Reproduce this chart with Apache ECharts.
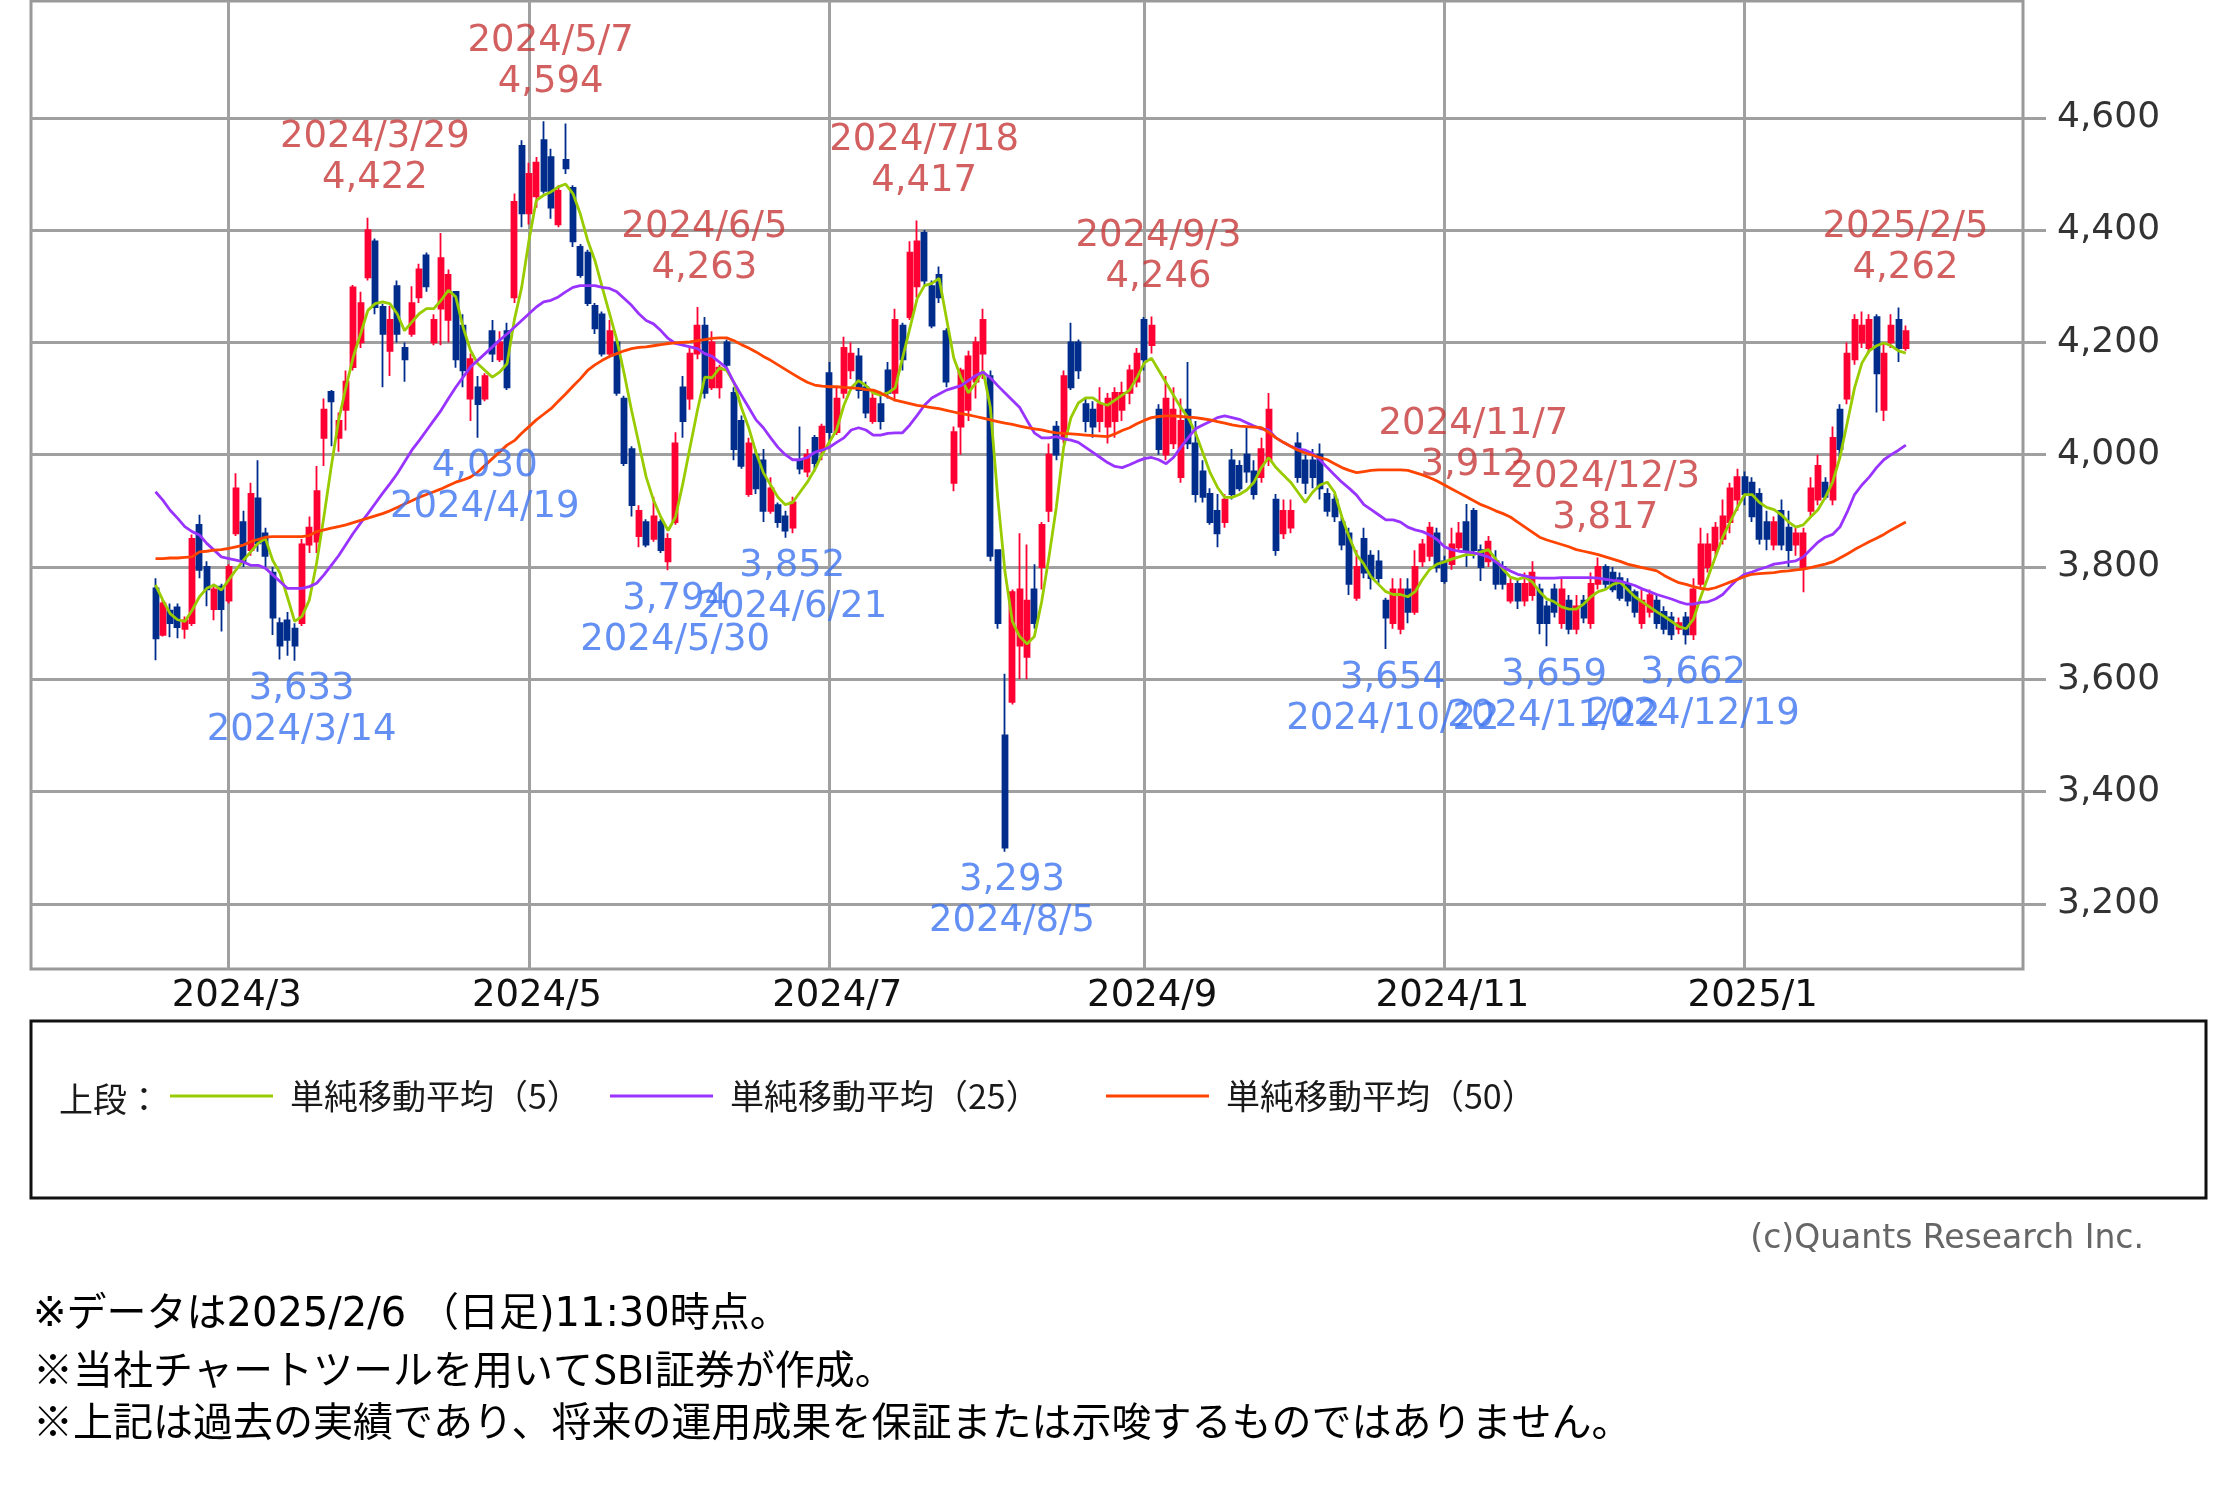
<!DOCTYPE html>
<html><head><meta charset="utf-8">
<script src="https://cdn.jsdelivr.net/npm/echarts@6.0.0/dist/echarts.min.js"></script>
<style>html,body{margin:0;padding:0;background:#fff}#c{width:2215px;height:1498px}</style>
</head><body><div id="c"></div>
<script>
// ---- data ----
const tradingDays = [
  ['2024/2', '15 16 19 20 21 22 26 27 28 29'],
  ['2024/3', '1 4 5 6 7 8 11 12 13 14 15 18 19 21 22 25 26 27 28 29'],
  ['2024/4', '1 2 3 4 5 8 9 10 11 12 15 16 17 18 19 22 23 24 25 26 30'],
  ['2024/5', '1 2 7 8 9 10 13 14 15 16 17 20 21 22 23 24 27 28 29 30 31'],
  ['2024/6', '3 4 5 6 7 10 11 12 13 14 17 18 19 20 21 24 25 26 27 28'],
  ['2024/7', '1 2 3 4 5 8 9 10 11 12 16 17 18 19 22 23 24 25 26 29 30 31'],
  ['2024/8', '1 2 5 6 7 8 9 13 14 15 16 19 20 21 22 23 26 27 28 29 30'],
  ['2024/9', '2 3 4 5 6 9 10 11 12 13 17 18 19 20 24 25 26 27 30'],
  ['2024/10', '1 2 3 4 7 8 9 10 11 15 16 17 18 21 22 23 24 25 28 29 30 31'],
  ['2024/11', '1 5 6 7 8 11 12 13 14 15 18 19 20 21 22 25 26 27 28 29'],
  ['2024/12', '2 3 4 5 6 9 10 11 12 13 16 17 18 19 20 23 24 25 26 27 30'],
  ['2025/1', '6 7 8 9 10 14 15 16 17 20 21 22 23 24 27 28 29 30 31'],
  ['2025/2', '3 4 5 6']
];
const tickDates = ['2024/3/1','2024/5/1','2024/7/1','2024/9/2','2024/11/1','2025/1/6'];
const yTicks = [3200,3400,3600,3800,4000,4200,4400,4600];

const open = [3762,3679,3722,3728,3690,3700,3875,3800,3725,3765,
3740,3860,3880,3830,3922,3860,3790,3700,3705,3690,
3700,3840,3845,4030,4112,4030,4080,4156,4200,4316,
4380,4263,4185,4300,4190,4215,4280,4355,4200,4260,
4240,4290,4230,4100,4120,4100,4220,4170,4220,4280,
4550,4430,4460,4560,4530,4410,4525,4475,4370,4360,
4265,4250,4180,4200,4100,4010,3855,3880,3850,3880,
3810,3880,4120,4100,4180,4230,4120,4120,4200,4110,
4060,3930,4000,3990,3900,3910,3890,3870,3990,3970,
4030,4010,4145,4040,4110,4150,4175,4120,4060,4090,
4150,4110,4230,4245,4300,4395,4300,4320,4220,3950,
4050,4080,4130,4180,4140,3830,3500,3560,3660,3640,
3760,3800,3900,4050,4030,4200,4200,4090,4080,4060,
4050,4060,4080,4110,4130,4240,4195,4080,4000,4020,
3960,4080,4020,3970,3930,3900,3880,3990,3980,4000,
3970,3960,3990,3920,3860,3870,4020,3990,3990,4000,
3930,3920,3880,3860,3745,3850,3820,3810,3740,3700,
3690,3760,3720,3810,3820,3860,3810,3805,3835,3880,
3900,3830,3810,3810,3800,3740,3770,3740,3750,3760,
3730,3760,3700,3740,3690,3740,3700,3770,3800,3790,
3780,3770,3755,3700,3720,3740,3720,3710,3690,3710,
3680,3770,3800,3830,3850,3880,3920,3960,3950,3930,
3880,3840,3900,3870,3840,3800,3900,3920,3950,3920,
4080,4100,4170,4200,4190,4245,4080,4200,4240,4190];

const close = [3673,3735,3700,3693,3705,3850,3795,3760,3760,3725,
3800,3940,3810,3930,3842,3820,3710,3660,3670,3660,
3840,3870,3935,4080,4095,4060,4130,4298,4270,4400,
4263,4215,4240,4215,4170,4270,4330,4300,4240,4350,
4320,4170,4150,4170,4090,4140,4180,4200,4120,4450,
4430,4500,4520,4470,4440,4470,4510,4380,4320,4270,
4225,4180,4220,4110,3985,3910,3900,3840,3890,3830,
3850,4020,4060,4180,4230,4110,4200,4155,4160,4010,
3980,4020,3940,3900,3940,3880,3865,3915,3975,4000,
3985,4050,4040,4100,4190,4180,4115,4075,4100,4060,
4110,4240,4170,4360,4380,4310,4230,4280,4130,4040,
4150,4175,4200,4240,3820,3700,3300,3755,3760,3740,
3700,3875,4000,4000,4140,4120,4150,4060,4050,4090,
4100,4110,4110,4150,4180,4170,4230,4010,4100,4080,
4060,4020,3930,3925,3880,3860,3920,3930,3940,3970,
3930,4010,4080,3830,3900,3900,3960,3950,3960,3940,
3900,3890,3840,3770,3800,3790,3780,3780,3710,3760,
3760,3720,3800,3840,3870,3800,3775,3840,3860,3830,
3830,3800,3845,3770,3770,3770,3740,3770,3790,3700,
3700,3720,3760,3690,3730,3710,3770,3800,3770,3760,
3745,3740,3720,3740,3750,3700,3690,3680,3700,3680,
3760,3840,3840,3870,3890,3940,3960,3930,3890,3850,
3850,3880,3840,3830,3860,3860,3940,3980,3925,4030,
4010,4180,4240,4230,4240,4145,4180,4230,4190,4220];

const high = [3780,3741,3735,3735,3712,3858,3893,3810,3770,3770,
3805,3967,3900,3950,3990,3870,3800,3710,3720,3700,
3850,3890,3980,4100,4115,4075,4150,4302,4290,4422,
4385,4269,4265,4310,4200,4300,4340,4360,4250,4395,
4330,4290,4250,4180,4140,4145,4240,4220,4235,4465,
4560,4520,4530,4594,4545,4480,4590,4480,4375,4365,
4270,4255,4240,4205,4105,4015,3910,3885,3925,3885,
3860,4040,4140,4190,4263,4245,4220,4160,4205,4120,
4070,4030,4010,4010,3960,3915,3900,3925,4050,4010,
4035,4055,4165,4120,4210,4200,4190,4130,4115,4110,
4165,4260,4235,4380,4417,4400,4310,4335,4225,4050,
4155,4185,4210,4260,4150,3830,3610,3760,3860,3840,
3805,3880,4020,4060,4150,4235,4205,4100,4095,4120,
4110,4120,4130,4160,4190,4245,4246,4090,4140,4120,
4100,4165,4060,3990,3940,3930,3930,4010,3990,4050,
3990,4030,4110,3930,3920,3920,4040,4000,4010,4020,
3940,3930,3890,3870,3830,3870,3830,3830,3745,3780,
3780,3780,3830,3850,3880,3870,3820,3870,3880,3912,
3905,3840,3855,3830,3810,3780,3780,3790,3810,3770,
3740,3770,3780,3750,3750,3750,3790,3817,3805,3800,
3790,3780,3760,3760,3760,3750,3730,3720,3710,3720,
3780,3870,3860,3880,3920,3950,3975,3970,3960,3940,
3900,3890,3920,3900,3870,3870,3960,4000,3960,4050,
4090,4200,4250,4255,4250,4250,4200,4250,4262,4230];

const low = [3634,3676,3675,3673,3672,3695,3780,3730,3705,3685,
3735,3855,3800,3820,3827,3800,3679,3635,3642,3633,
3695,3825,3825,3980,4015,4005,4043,4150,4190,4310,
4250,4120,4140,4200,4130,4210,4270,4290,4195,4195,
4200,4155,4120,4060,4030,4095,4165,4165,4115,4270,
4405,4410,4440,4465,4420,4405,4500,4370,4315,4265,
4215,4175,4175,4105,3980,3890,3835,3835,3845,3825,
3794,3875,4030,4080,4170,4100,4115,4100,4150,3990,
3975,3925,3930,3880,3895,3870,3852,3860,3965,3960,
3970,3990,4020,4035,4100,4135,4100,4065,4055,4045,
4100,4095,4150,4240,4280,4300,4225,4270,4120,3935,
4000,4060,4100,4135,3810,3690,3293,3555,3600,3600,
3690,3760,3880,3990,4020,4115,4135,4040,4030,4040,
4020,4030,4060,4090,4120,4150,4180,4000,3990,4010,
3950,4010,3915,3915,3875,3835,3870,3920,3935,3950,
3920,3950,3980,3820,3850,3860,3950,3930,3940,3920,
3890,3880,3830,3750,3740,3780,3760,3770,3654,3690,
3680,3700,3715,3800,3810,3790,3770,3795,3830,3800,
3815,3775,3800,3760,3760,3735,3725,3730,3740,3680,
3659,3710,3690,3680,3680,3700,3690,3760,3760,3755,
3740,3730,3710,3690,3710,3690,3680,3670,3680,3662,
3670,3760,3790,3820,3840,3860,3900,3910,3880,3840,
3830,3830,3830,3800,3820,3755,3890,3910,3920,3910,
3995,4090,4160,4190,4180,4075,4060,4190,4165,4185];

const ma5 = [3768,3741,3717,3706,3703,3723,3747,3762,3768,3759,
3777,3795,3812,3827,3842,3851,3812,3789,3747,3703,
3712,3741,3807,3890,3979,4061,4120,4174,4215,4257,
4269,4272,4269,4251,4221,4236,4251,4260,4260,4275,
4293,4281,4227,4186,4162,4150,4138,4147,4162,4240,
4298,4382,4453,4462,4468,4477,4482,4465,4429,4382,
4346,4298,4251,4204,4144,4079,4020,3960,3919,3889,
3865,3889,3948,4014,4079,4138,4137,4154,4150,4128,
4084,4048,4004,3968,3946,3924,3911,3915,3933,3951,
3973,4000,4022,4044,4088,4119,4132,4123,4110,4106,
4110,4119,4172,4225,4278,4301,4305,4314,4243,4172,
4137,4110,4128,4150,4084,3924,3791,3703,3676,3663,
3676,3738,3818,3906,4013,4066,4092,4101,4101,4092,
4088,4097,4106,4115,4137,4163,4172,4150,4128,4106,
4084,4066,4039,4004,3968,3942,3924,3924,3929,3937,
3951,3977,3995,3977,3964,3951,3933,3915,3933,3946,
3951,3933,3889,3853,3822,3805,3782,3769,3756,3751,
3751,3747,3756,3778,3796,3805,3809,3814,3818,3822,
3822,3827,3831,3814,3796,3782,3778,3782,3773,3756,
3743,3738,3729,3725,3725,3734,3747,3756,3760,3769,
3773,3760,3747,3738,3729,3720,3712,3703,3694,3690,
3707,3747,3782,3818,3853,3880,3906,3929,3929,3915,
3906,3902,3893,3880,3871,3875,3889,3902,3924,3951,
3995,4057,4119,4163,4185,4194,4199,4194,4185,4181];

const ma25 = [3934,3919,3901,3887,3872,3863,3857,3842,3830,3818,
3815,3812,3809,3803,3803,3798,3786,3774,3762,3762,
3762,3765,3771,3786,3803,3820,3840,3860,3878,3895,
3913,3931,3948,3966,3987,4008,4025,4043,4061,4079,
4100,4120,4138,4156,4168,4180,4192,4204,4215,4227,
4239,4251,4263,4272,4275,4281,4290,4298,4301,4301,
4301,4298,4296,4290,4278,4266,4251,4239,4233,4221,
4207,4198,4195,4192,4189,4180,4175,4165,4154,4128,
4106,4084,4062,4048,4030,4013,4000,3991,3991,3995,
4004,4008,4013,4022,4030,4044,4048,4044,4035,4035,
4038,4039,4039,4053,4070,4088,4101,4108,4115,4119,
4123,4132,4141,4147,4137,4123,4110,4097,4084,4061,
4039,4030,4030,4032,4028,4026,4022,4013,4004,3995,
3986,3979,3977,3982,3988,3993,3995,3991,3984,3995,
4013,4030,4046,4053,4059,4066,4069,4066,4063,4057,
4051,4046,4044,4030,4022,4015,4010,4008,4002,3991,
3977,3964,3951,3940,3928,3911,3902,3893,3884,3884,
3880,3871,3866,3863,3857,3849,3836,3831,3828,3827,
3825,3822,3818,3809,3800,3793,3787,3784,3781,3780,
3780,3780,3781,3781,3781,3781,3781,3780,3778,3776,
3775,3771,3767,3761,3756,3751,3747,3743,3738,3734,
3734,3737,3738,3743,3751,3765,3778,3787,3791,3796,
3800,3805,3807,3809,3811,3818,3831,3844,3853,3858,
3871,3898,3929,3946,3960,3977,3991,4000,4008,4017];

const ma50 = [3815,3815,3816,3816,3817,3818,3827,3828,3830,3831,
3833,3836,3839,3845,3849,3853,3854,3854,3854,3854,
3854,3856,3863,3866,3869,3872,3875,3879,3883,3887,
3891,3895,3900,3906,3912,3918,3924,3929,3934,3939,
3945,3951,3955,3960,3969,3981,3993,4005,4017,4025,
4038,4050,4062,4072,4082,4095,4108,4122,4135,4150,
4160,4168,4175,4180,4185,4189,4191,4192,4194,4196,
4198,4199,4200,4201,4203,4205,4207,4208,4208,4203,
4196,4190,4183,4175,4168,4160,4152,4144,4136,4129,
4124,4122,4121,4121,4120,4119,4118,4116,4115,4110,
4103,4097,4094,4091,4088,4086,4084,4082,4079,4076,
4073,4071,4068,4065,4062,4059,4056,4054,4051,4048,
4046,4044,4041,4039,4038,4037,4036,4035,4034,4033,
4032,4037,4043,4048,4055,4061,4066,4068,4069,4069,
4068,4067,4066,4064,4062,4059,4056,4053,4051,4050,
4049,4048,4040,4030,4022,4015,4008,4003,3999,3995,
3991,3984,3977,3972,3968,3970,3972,3973,3973,3973,
3973,3972,3968,3964,3959,3953,3946,3939,3932,3925,
3918,3911,3906,3900,3895,3889,3880,3871,3862,3853,
3848,3844,3840,3836,3831,3828,3825,3822,3818,3814,
3810,3805,3802,3799,3796,3793,3785,3778,3772,3769,
3765,3762,3760,3763,3768,3773,3778,3783,3787,3788,
3789,3790,3792,3793,3795,3796,3799,3802,3805,3809,
3816,3823,3831,3838,3845,3851,3858,3866,3873,3880];

const hiDates = ['2024/3/29','2024/5/7','2024/6/5','2024/7/18','2024/9/3','2024/11/7','2024/12/3','2025/2/5'];
const hiValues = [4422,4594,4263,4417,4246,3912,3817,4262];
const loDates = ['2024/3/14','2024/4/19','2024/5/30','2024/6/21','2024/8/5','2024/10/22','2024/11/22','2024/12/19'];
const loValues = [3633,4030,3794,3852,3293,3654,3659,3662];

const maNames = ['単純移動平均（5）','単純移動平均（25）','単純移動平均（50）'];
const footerLines = [
  '※データは2025/2/6 （日足)11:30時点。',
  '※当社チャートツールを用いてSBI証券が作成。',
  '※上記は過去の実績であり、将来の運用成果を保証または示唆するものではありません。'
];

// ---- build ----
const dates = tradingDays.flatMap(([m, ds]) => ds.split(' ').map(d => m + '/' + d));
const PAD_L = 17, PAD_R = 16;
const cats = [];
for (let k = 0; k < PAD_L; k++) cats.push('padL' + k);
dates.forEach(d => cats.push(d));
for (let k = 0; k < PAD_R; k++) cats.push('padR' + k);
const tickSet = new Set(tickDates);
const fmt = v => String(v).replace(/\B(?=(\d{3})+(?!\d))/g, ',');
const monthLabel = d => d.split('/').slice(0, 2).join('/');

const UP = '#ff0033', DOWN = '#002d8c';
const MA_COLORS = ['#99cc00', '#9933ff', '#ff4400'];
const GRID_C = '#a0a0a0';
const LABEL_FONT = 'DejaVu Sans';
const JP_FONT = 'Noto Sans CJK JP';
const MIX_FONT = '"DejaVu Sans", "Noto Sans CJK JP"';

const maSeries = [ma5, ma25, ma50].map((arr, k) => ({
  type: 'line', name: maNames[k],
  data: dates.map((d, i) => [d, arr[i]]),
  symbol: 'none', showSymbol: false, silent: true, z: 3,
  lineStyle: { color: MA_COLORS[k], width: 2.8 },
  itemStyle: { color: MA_COLORS[k] }
}));

const legendCommon = {
  icon: 'rect', itemWidth: 103, itemHeight: 3, selectedMode: false, padding: 0,
  top: 1079,
  textStyle: { fontFamily: JP_FONT, fontSize: 34, color: '#1a1a1a', padding: [0, 0, 0, 12] }
};

const option = {
  animation: false,
  backgroundColor: '#fff',
  grid: { left: 31, top: 1, width: 1992, height: 968, show: true, borderColor: '#999', borderWidth: 3, backgroundColor: '#fff' },
  xAxis: {
    type: 'category', data: cats, boundaryGap: false,
    axisLine: { show: false }, axisTick: { show: false },
    axisLabel: {
      interval: (i, v) => tickSet.has(v), formatter: v => monthLabel(v),
      margin: 9, fontFamily: LABEL_FONT, fontSize: 37, color: '#111', padding: [0, 0, 0, 16]
    },
    splitLine: { show: true, interval: (i, v) => tickSet.has(v), lineStyle: { color: GRID_C, width: 3 } }
  },
  yAxis: {
    type: 'value', position: 'right', min: 3084, max: 4808,
    axisLine: { show: false },
    axisTick: { show: true, length: 23, customValues: yTicks, lineStyle: { color: GRID_C, width: 3 } },
    axisLabel: { customValues: yTicks, margin: 34, formatter: v => fmt(v), fontFamily: LABEL_FONT, fontSize: 36, color: '#333' },
    splitLine: { show: true, lineStyle: { color: GRID_C, width: 3 } }
  },
  legend: maNames.map((n, k) => Object.assign({}, legendCommon, { data: [n], left: [170, 610, 1106][k] })),
  series: [
    {
      type: 'candlestick', name: 'price', silent: true,
      data: dates.map((d, i) => [d, open[i], close[i], low[i], high[i]]),
      encode: { x: 0, y: [1, 2, 3, 4] },
      barWidth: 5.5,
      itemStyle: { color: UP, color0: DOWN, borderColor: UP, borderColor0: DOWN, borderWidth: 1.8 }
    },
    ...maSeries,
    {
      type: 'scatter', name: 'highs', silent: true, z: 6,
      data: hiDates.map((d, i) => [d, hiValues[i]]),
      symbolSize: 1, itemStyle: { color: 'rgba(0,0,0,0)' },
      label: {
        show: true, position: 'top', distance: 18, offset: [7, 0],
        formatter: p => p.value[0] + '\n' + fmt(p.value[1]),
        fontFamily: LABEL_FONT, fontSize: 37, lineHeight: 41, color: '#c83838', align: 'center'
      }
    },
    {
      type: 'scatter', name: 'lows', silent: true, z: 6,
      data: loDates.map((d, i) => [d, loValues[i]]),
      symbolSize: 1, itemStyle: { color: 'rgba(0,0,0,0)' },
      label: {
        show: true, position: 'bottom', distance: 8, offset: [7, 0],
        formatter: p => fmt(p.value[1]) + '\n' + p.value[0],
        fontFamily: LABEL_FONT, fontSize: 37, lineHeight: 41, color: '#3f74f0', align: 'center'
      }
    }
  ],
  graphic: [
    { type: 'rect', shape: { x: 31, y: 1021, width: 2175, height: 177 }, style: { fill: 'none', stroke: '#111', lineWidth: 3 } },
    { type: 'text', x: 59, y: 1099, style: { text: '上段：', fontFamily: JP_FONT, fontSize: 34, fill: '#1a1a1a', align: 'left', verticalAlign: 'middle' } },
    { type: 'text', x: 2144, y: 1239, style: { text: '(c)Quants Research Inc.', fontFamily: LABEL_FONT, fontSize: 33, fill: '#666', align: 'right', verticalAlign: 'middle' } },
    ...footerLines.map((t, k) => ({
      type: 'text', x: 33, y: 1316 + k * 52.5,
      style: { text: t, fontFamily: k === 0 ? MIX_FONT : JP_FONT, fontSize: 40, fill: '#000', align: 'left', verticalAlign: 'middle' }
    }))
  ]
};

const chart = echarts.init(document.getElementById('c'), null, { renderer: 'canvas' });
chart.setOption(option);
</script>
</body></html>
